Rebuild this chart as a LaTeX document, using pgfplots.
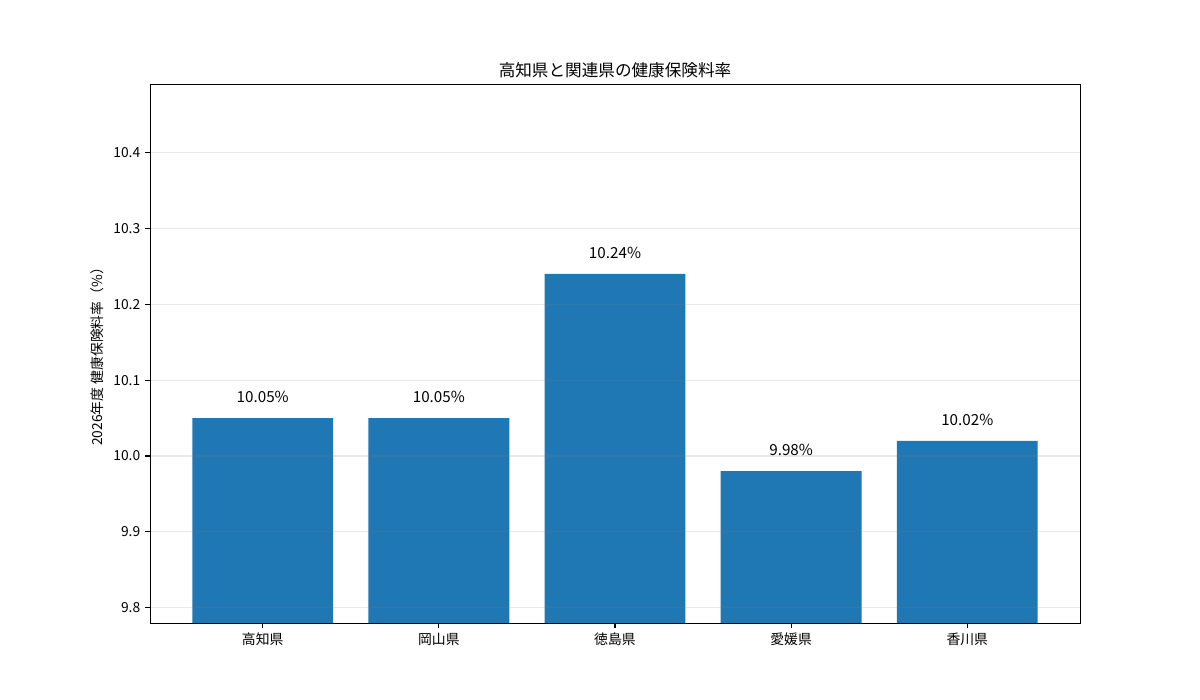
\documentclass[border=0pt]{standalone}
\usepackage{pgfplots}
\pgfplotsset{compat=1.18}
\usepackage{fontspec}
\setmainfont{Noto Sans CJK JP}
\definecolor{barblue}{HTML}{1F77B4}
\begin{document}
\begin{tikzpicture}
\path[use as bounding box] (0,0) rectangle (12in,7in);
\begin{axis}[
    at={(1.5in,0.77in)}, anchor=south west,
    scale only axis,
    width=9.3in, height=5.39in,
    xmin=-0.64, xmax=4.64,
    ymin=9.78, ymax=10.49,
    xtick=data,
    xticklabels={高知県, 岡山県, 徳島県, 愛媛県, 香川県},
    ytick={9.8,9.9,10.0,10.1,10.2,10.3,10.4},
    yticklabel style={/pgf/number format/.cd, fixed, precision=1, fixed zerofill},
    /pgf/number format/assume math mode=true,
    tick pos=left,
    tick align=outside,
    major tick length=3.5pt,
    tick style={black, line width=0.8pt},
    axis line style={line width=0.7pt},
    ymajorgrids,
    major grid style={gray, opacity=0.18, line width=0.8pt},
    axis on top,
    ticklabel style={font=\fontsize{10}{12}\selectfont},
    title={高知県と関連県の健康保険料率},
    title style={font=\fontsize{12}{14}\selectfont, yshift=-5pt},
    ylabel={2026年度 健康保険料率（\%）},
    ylabel style={font=\fontsize{10}{12}\selectfont},
    nodes near coords={\pgfmathprintnumber[fixed, precision=2, fixed zerofill]{\pgfplotspointmeta}\%},
    nodes near coords style={font=\fontsize{11}{13}\selectfont, anchor=base, inner sep=0pt, yshift=11pt,
        /pgf/number format/assume math mode=true},
]
\addplot[ybar, bar width=0.8, fill=barblue, draw=none] coordinates {
    (0, 10.05) (1, 10.05) (2, 10.24) (3, 9.98) (4, 10.02)
};
\end{axis}
\end{tikzpicture}
\end{document}
